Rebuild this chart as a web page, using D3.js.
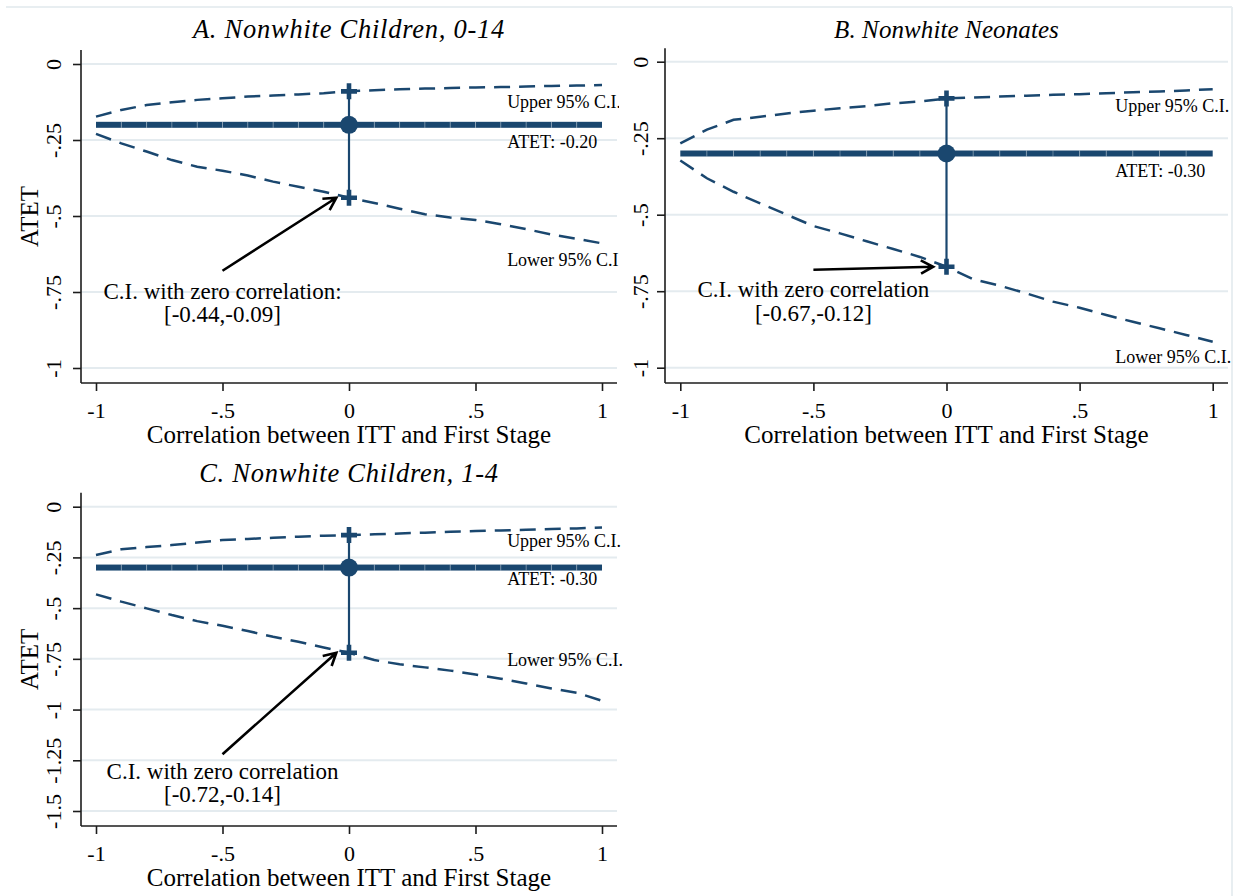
<!DOCTYPE html>
<html>
<head>
<meta charset="utf-8">
<script src="https://cdn.jsdelivr.net/npm/d3@7"></script>
<style>
  body { margin: 0; background: #fff; }
  svg { display: block; font-family: "Liberation Serif", "Times New Roman", serif; }
</style>
</head>
<body>
<svg id="fig" width="1233" height="896"></svg>
<script>
// Correlation grid used for every bound curve
const corr = [-1, -0.9, -0.8, -0.7, -0.6, -0.5, -0.4, -0.3, -0.2, -0.1, 0,
              0.1, 0.2, 0.3, 0.4, 0.5, 0.6, 0.7, 0.8, 0.9, 1];

// Panel A: Nonwhite children 0-14
const titleA = "A. Nonwhite Children, 0-14";
const atetA = -0.20;
const ciA = [-0.44, -0.09];
const upperA = [-0.173, -0.151, -0.135, -0.126, -0.118, -0.113, -0.107, -0.104, -0.100, -0.096, -0.09,
                -0.086, -0.083, -0.081, -0.079, -0.077, -0.076, -0.074, -0.072, -0.071, -0.069];
const lowerA = [-0.230, -0.261, -0.288, -0.316, -0.338, -0.351, -0.367, -0.387, -0.404, -0.420, -0.44,
                -0.457, -0.476, -0.494, -0.505, -0.513, -0.527, -0.543, -0.561, -0.575, -0.590];

// Panel B: Nonwhite neonates
const titleB = "B. Nonwhite Neonates";
const atetB = -0.30;
const ciB = [-0.67, -0.12];
const upperB = [-0.267, -0.222, -0.190, -0.180, -0.169, -0.160, -0.152, -0.145, -0.136, -0.130, -0.12,
                -0.117, -0.114, -0.111, -0.108, -0.106, -0.103, -0.100, -0.097, -0.094, -0.090];
const lowerB = [-0.323, -0.381, -0.425, -0.463, -0.500, -0.537, -0.561, -0.587, -0.612, -0.638, -0.67,
                -0.711, -0.732, -0.757, -0.784, -0.804, -0.828, -0.850, -0.871, -0.893, -0.915];

// Panel C: Nonwhite children 1-4
const titleC = "C. Nonwhite Children, 1-4";
const atetC = -0.30;
const ciC = [-0.72, -0.14];
const upperC = [-0.238, -0.210, -0.199, -0.189, -0.177, -0.164, -0.159, -0.153, -0.148, -0.143, -0.14,
                -0.136, -0.132, -0.128, -0.124, -0.120, -0.117, -0.114, -0.110, -0.107, -0.103];
const lowerC = [-0.432, -0.468, -0.501, -0.534, -0.564, -0.587, -0.613, -0.641, -0.666, -0.694, -0.72,
                -0.756, -0.777, -0.792, -0.808, -0.827, -0.848, -0.871, -0.896, -0.917, -0.957];

// Axis ticks
const xTicks = [-1, -0.5, 0, 0.5, 1];
const yTicksAB = [0, -0.25, -0.5, -0.75, -1];
const yTicksC = [0, -0.25, -0.5, -0.75, -1, -1.25, -1.5];

// Texts
const xTitle = "Correlation between ITT and First Stage";
const yTitle = "ATET";
const upperText = "Upper 95% C.I.";
const lowerText = "Lower 95% C.I.";
const noteA = ["C.I. with zero correlation:", "[-0.44,-0.09]"];
const noteB = ["C.I. with zero correlation", "[-0.67,-0.12]"];
const noteC = ["C.I. with zero correlation", "[-0.72,-0.14]"];

// Stata-style number format: drop the leading zero
const fmt = d => d === 0 ? "0" : String(d).replace("0.", ".");

const NAVY = "#1a476f";
const GRID = "#e4ebef";
const AXIS = "#1c1c1c";

const svg = d3.select("#fig");

// Light outer frame of the combined graph
svg.append("line").attr("x1", 6).attr("x2", 1232).attr("y1", 7).attr("y2", 7)
  .attr("stroke", "#e8eef1").attr("stroke-width", 2);
svg.append("line").attr("x1", 1232).attr("x2", 1232).attr("y1", 7).attr("y2", 896)
  .attr("stroke", "#e8eef1").attr("stroke-width", 2);

const panels = [
  { id: "A", title: titleA, atet: atetA, ci: ciA, upper: upperA, lower: lowerA, yTicks: yTicksAB,
    yDomain: [0, -1], box: { l: 81, t: 50, r: 617, b: 383 }, xRange: [96, 602], yRange: [64, 368],
    titleY: 38, titleSize: 26.5, titleSpacing: 0.75, showYTitle: true, tickLabelGap: 20, clipRight: 619,
    labelX: 0.625, labelY: { upper: -0.145, atet: -0.276, lower: -0.666 },
    note: noteA, noteY: [-0.774, -0.848], arrowFrom: [-0.5, -0.68], arrowTo: [-0.05, -0.44] },
  { id: "B", title: titleB, atet: atetB, ci: ciB, upper: upperB, lower: lowerB, yTicks: yTicksAB,
    yDomain: [0, -1], box: { l: 665, t: 48.3, r: 1228, b: 383 }, xRange: [680.3, 1212.7], yRange: [61.7, 367.7],
    titleY: 38, titleSize: 25, titleSpacing: 0.1, showYTitle: false, tickLabelGap: 17.5, clipRight: 1240,
    labelX: 0.634, labelY: { upper: -0.163, atet: -0.377, lower: -0.985 },
    note: noteB, noteY: [-0.770, -0.846], arrowFrom: [-0.5, -0.68], arrowTo: [-0.05, -0.67] },
  { id: "C", title: titleC, atet: atetC, ci: ciC, upper: upperC, lower: lowerC, yTicks: yTicksC,
    yDomain: [0, -1.5], box: { l: 81, t: 492.7, r: 617, b: 826 }, xRange: [96, 602], yRange: [506.7, 811],
    titleY: 482, titleSize: 26.5, titleSpacing: 0.75, showYTitle: true, tickLabelGap: 20, clipRight: 626,
    labelX: 0.625, labelY: { upper: -0.201, atet: -0.386, lower: -0.786 },
    note: noteC, noteY: [-1.342, -1.455], arrowFrom: [-0.5, -1.22], arrowTo: [-0.05, -0.72] }
];

panels.forEach(p => {
  const g = svg.append("g").attr("class", "panel-" + p.id);
  const x = d3.scaleLinear().domain([-1, 1]).range(p.xRange);
  const y = d3.scaleLinear().domain(p.yDomain).range(p.yRange);
  const bx = p.box;

  // Horizontal grid lines
  g.append("g").selectAll("line").data(p.yTicks).join("line")
    .attr("x1", bx.l).attr("x2", bx.r)
    .attr("y1", d => y(d)).attr("y2", d => y(d))
    .attr("stroke", GRID).attr("stroke-width", 2);

  // Y axis
  const yAxis = g.append("g").attr("transform", `translate(${bx.l},0)`)
    .call(d3.axisLeft(y).tickValues(p.yTicks).tickFormat(fmt).tickSize(8).tickSizeOuter(0));
  yAxis.select(".domain").remove();
  yAxis.selectAll(".tick line").attr("stroke", AXIS).attr("stroke-width", 1.6);
  yAxis.selectAll(".tick text")
    .attr("x", 0).attr("y", -p.tickLabelGap).attr("dy", null)
    .attr("transform", "rotate(-90)")
    .attr("text-anchor", "middle")
    .attr("font-size", 22).attr("fill", "#000")
    .style("font-family", "'Liberation Serif', 'Times New Roman', serif");
  g.append("line").attr("x1", bx.l).attr("x2", bx.l).attr("y1", bx.t).attr("y2", bx.b)
    .attr("stroke", AXIS).attr("stroke-width", 1.6);

  // X axis
  const xAxis = g.append("g").attr("transform", `translate(0,${bx.b})`)
    .call(d3.axisBottom(x).tickValues(xTicks).tickFormat(fmt).tickSize(8).tickSizeOuter(0));
  xAxis.select(".domain").remove();
  xAxis.selectAll(".tick line").attr("stroke", AXIS).attr("stroke-width", 1.6);
  xAxis.selectAll(".tick text")
    .attr("y", 35).attr("dy", null)
    .attr("font-size", 22).attr("fill", "#000")
    .style("font-family", "'Liberation Serif', 'Times New Roman', serif");
  g.append("line").attr("x1", bx.l).attr("x2", bx.r).attr("y1", bx.b).attr("y2", bx.b)
    .attr("stroke", AXIS).attr("stroke-width", 1.6);

  // Axis titles
  g.append("text").attr("x", (bx.l + bx.r) / 2).attr("y", bx.b + 60)
    .attr("text-anchor", "middle").attr("font-size", 25).text(xTitle);
  if (p.showYTitle) {
    g.append("text")
      .attr("transform", `translate(37.5,${(bx.t + bx.b) / 2}) rotate(-90)`)
      .attr("text-anchor", "middle").attr("font-size", 25).text(yTitle);
  }

  // Panel title
  g.append("text").attr("x", (bx.l + bx.r) / 2).attr("y", p.titleY)
    .attr("text-anchor", "middle").attr("font-size", p.titleSize).attr("font-style", "italic")
    .attr("letter-spacing", p.titleSpacing)
    .text(p.title);

  // Upper and lower 95% bounds across correlations
  const line = d3.line().x((d, i) => x(corr[i])).y(d => y(d));
  [p.upper, p.lower].forEach(vals => {
    g.append("path").datum(vals).attr("d", line)
      .attr("fill", "none").attr("stroke", NAVY).attr("stroke-width", 2.5)
      .attr("stroke-dasharray", "16 9");
  });

  // ATET: thick horizontal line built from segments between grid points
  const segs = d3.pairs(corr);
  g.append("g").selectAll("line").data(segs).join("line")
    .attr("x1", d => x(d[0])).attr("x2", d => x(d[1]))
    .attr("y1", y(p.atet)).attr("y2", y(p.atet))
    .attr("stroke", NAVY).attr("stroke-width", 6);
  g.append("g").selectAll("line").data(corr.slice(1, -1)).join("line")
    .attr("x1", d => x(d)).attr("x2", d => x(d))
    .attr("y1", y(p.atet) - 3).attr("y2", y(p.atet) + 3)
    .attr("stroke", "#ffffff").attr("stroke-opacity", 0.3).attr("stroke-width", 1);

  // Zero-correlation confidence interval
  g.append("line").attr("x1", x(0)).attr("x2", x(0))
    .attr("y1", y(p.ci[0])).attr("y2", y(p.ci[1]))
    .attr("stroke", NAVY).attr("stroke-width", 2.2);
  const plus = 8;
  g.append("g").selectAll("path").data(p.ci).join("path")
    .attr("d", d => `M${x(0) - plus},${y(d)}H${x(0) + plus}M${x(0)},${y(d) - plus}V${y(d) + plus}`)
    .attr("stroke", NAVY).attr("stroke-width", 4.6).attr("fill", "none");
  g.append("circle").attr("cx", x(0)).attr("cy", y(p.atet)).attr("r", 9).attr("fill", NAVY);

  // Right-hand labels (clipped to the panel)
  const clipId = "clip-" + p.id;
  svg.append("clipPath").attr("id", clipId).append("rect")
    .attr("x", bx.l).attr("y", 0).attr("width", p.clipRight - bx.l).attr("height", 896);
  const lab = g.append("g").attr("clip-path", `url(#${clipId})`)
    .attr("font-size", 18).attr("fill", "#000");
  lab.append("text").attr("x", x(p.labelX)).attr("y", y(p.labelY.upper)).text(upperText);
  lab.append("text").attr("x", x(p.labelX)).attr("y", y(p.labelY.atet))
    .text("ATET: " + p.atet.toFixed(2));
  lab.append("text").attr("x", x(p.labelX)).attr("y", y(p.labelY.lower)).text(lowerText);

  // Annotation with arrow pointing at the zero-correlation bound
  p.note.forEach((t, i) => {
    g.append("text").attr("x", x(p.arrowFrom[0])).attr("y", y(p.noteY[i]))
      .attr("text-anchor", "middle").attr("font-size", 23).attr("fill", "#000").text(t);
  });
  const x0 = x(p.arrowFrom[0]), y0 = y(p.arrowFrom[1]);
  const x1 = x(p.arrowTo[0]), y1 = y(p.arrowTo[1]);
  const ang = Math.atan2(y1 - y0, x1 - x0);
  const bl = 14, ba = 0.5;
  const bar = a => [x1 - bl * Math.cos(ang + a), y1 - bl * Math.sin(ang + a)];
  const b1 = bar(ba), b2 = bar(-ba);
  g.append("path")
    .attr("d", `M${x0},${y0}L${x1},${y1}M${b1[0]},${b1[1]}L${x1},${y1}L${b2[0]},${b2[1]}`)
    .attr("fill", "none").attr("stroke", "#000").attr("stroke-width", 2.6)
    .attr("stroke-linejoin", "miter");
});
</script>
</body>
</html>
